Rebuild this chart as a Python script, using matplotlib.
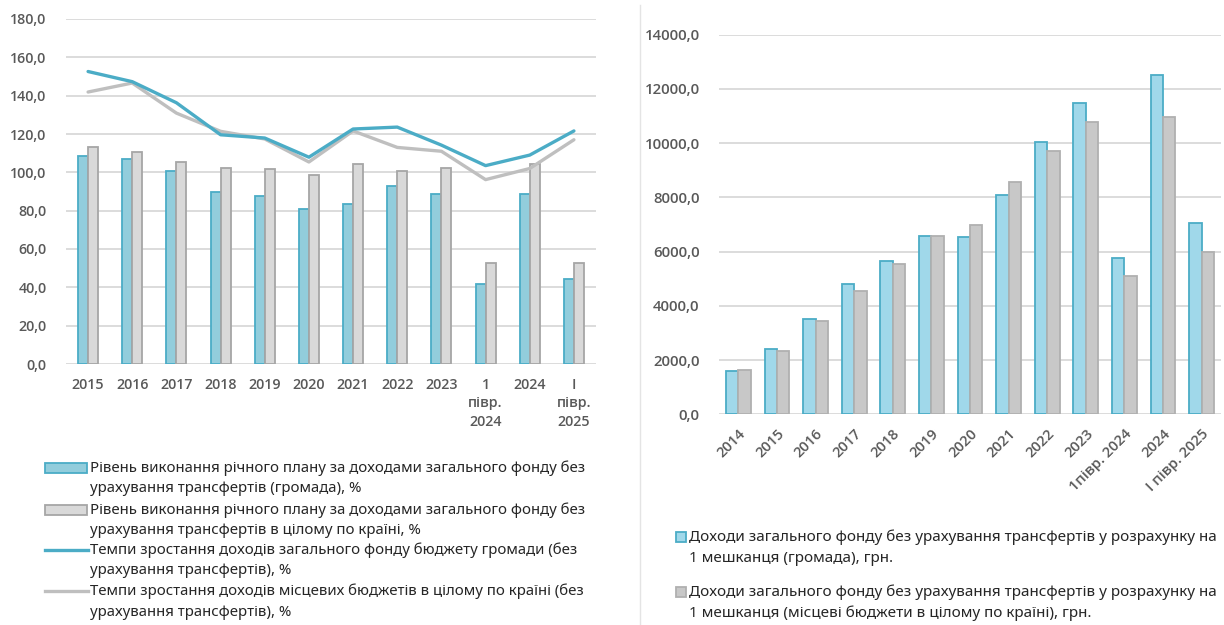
import matplotlib
matplotlib.use("Agg")
import matplotlib.pyplot as plt
import numpy as np
from matplotlib.patches import Rectangle
from matplotlib.lines import Line2D

plt.rcParams['font.family'] = ['Noto Sans', 'DejaVu Sans']
TICK_FONT = ['Open Sans', 'DejaVu Sans']

# ---- left chart data ----
left_cats = ['2015', '2016', '2017', '2018', '2019', '2020', '2021', '2022', '2023',
             '1\nпівр.\n2024', '2024', 'I\nпівр.\n2025']
plan_hromada = [108.3, 107.1, 100.7, 89.7, 87.6, 80.9, 83.3, 92.9, 88.7, 41.6, 88.7, 44.2]
plan_country = [113.4, 110.7, 105.3, 102.5, 102.0, 98.8, 104.3, 100.9, 102.5, 52.6, 104.3, 52.6]
growth_hromada = [152.6, 147.3, 136.3, 119.6, 117.9, 107.9, 122.6, 123.6, 114.2, 103.5, 109.0, 121.6]
growth_country = [141.9, 146.6, 130.9, 121.4, 117.4, 105.4, 121.6, 113.0, 111.0, 96.2, 102.0, 117.0]
left_yticks = list(range(0, 181, 20))
left_labels = [
    'Рівень виконання річного плану за доходами загального фонду без\nурахування трансфертів (громада), %',
    'Рівень виконання річного плану за доходами загального фонду без\nурахування трансфертів в цілому по країні, %',
    'Темпи зростання доходів загального фонду бюджету громади (без\nурахування трансфертів), %',
    'Темпи зростання доходів місцевих бюджетів в цілому по країні (без\nурахування трансфертів), %',
]

# ---- right chart data ----
right_cats = ['2014', '2015', '2016', '2017', '2018', '2019', '2020', '2021', '2022', '2023',
              '1півр. 2024', '2024', 'I півр. 2025']
per_capita_hromada = [1600, 2410, 3530, 4810, 5650, 6590, 6550, 8100, 10040, 11470, 5780, 12510, 7050]
per_capita_country = [1620, 2320, 3450, 4540, 5540, 6590, 6970, 8570, 9710, 10790, 5110, 10970, 5970]
right_yticks = list(range(0, 14001, 2000))
right_labels = [
    'Доходи загального фонду без урахування трансфертів у розрахунку на\n1 мешканця (громада), грн.',
    'Доходи загального фонду без урахування трансфертів у розрахунку на\n1 мешканця (місцеві бюджети в цілому по країні), грн.',
]

BLUE_FILL = '#92cddc'
BLUE_EDGE = '#4bacc6'
GRAY_FILL = '#d9d9d9'
GRAY_EDGE = '#a6a6a6'
BLUE_LINE = '#4bacc6'
GRAY_LINE = '#bfbfbf'
TICK_C = '#595959'
GRID_C = '#d9d9d9'

W, H = 1224, 625
fig = plt.figure(figsize=(W / 100, H / 100), dpi=100)


def fx(px):
    return px / W


def fy(py):
    return 1 - py / H


def comma(v):
    return f'{v:.1f}'.replace('.', ',')


def style_axes(ax):
    for s in ax.spines.values():
        s.set_visible(False)
    ax.tick_params(length=0)
    ax.yaxis.grid(True, color=GRID_C, linewidth=1.3)
    ax.set_axisbelow(True)


# ---- left chart ----
axl = fig.add_axes([fx(66), fy(364), fx(596) - fx(66), fy(19) - fy(364)])
x = np.arange(len(left_cats))
bw = 0.227
axl.bar(x - bw / 2, plan_hromada, bw, color=BLUE_FILL, edgecolor=BLUE_EDGE, linewidth=1.3, zorder=2)
axl.bar(x + bw / 2, plan_country, bw, color=GRAY_FILL, edgecolor=GRAY_EDGE, linewidth=1.3, zorder=2)
axl.plot(x, growth_country, color=GRAY_LINE, linewidth=2.4, zorder=3, solid_capstyle='round')
axl.plot(x, growth_hromada, color=BLUE_LINE, linewidth=2.4, zorder=4, solid_capstyle='round')
axl.set_xlim(-0.5, len(left_cats) - 0.5)
axl.set_ylim(0, 180)
axl.set_yticks(left_yticks, [comma(v) for v in left_yticks],
               family=TICK_FONT, fontweight='semibold', fontsize=10.3, color=TICK_C)
axl.set_xticks(x, left_cats, linespacing=1.4, va='top',
               family=TICK_FONT, fontweight='semibold', fontsize=10.3, color=TICK_C)
style_axes(axl)
axl.tick_params(axis='y', pad=14)
axl.tick_params(axis='x', pad=10)

# ---- right chart ----
axr = fig.add_axes([fx(719), fy(414.3), fx(1221) - fx(719), fy(34.7) - fy(414.3)])
xr = np.arange(len(right_cats))
bw2 = 0.32
axr.bar(xr - bw2 / 2, per_capita_hromada, bw2, color='#a0d8ea', edgecolor=BLUE_EDGE, linewidth=1.3, zorder=2)
axr.bar(xr + bw2 / 2, per_capita_country, bw2, color='#c8c8c8', edgecolor='#b0b0b0', linewidth=1.3, zorder=2)
axr.set_xlim(-0.5, len(right_cats) - 0.5)
axr.set_ylim(0, 14000)
axr.set_yticks(right_yticks, [comma(v) for v in right_yticks],
               family=TICK_FONT, fontweight='semibold', fontsize=10.8, color=TICK_C)
axr.set_xticks(xr, right_cats, rotation=45, ha='right', rotation_mode='anchor',
               family=TICK_FONT, fontweight='semibold', fontsize=10.5, color=TICK_C)
style_axes(axr)
axr.tick_params(axis='y', pad=14)
axr.tick_params(axis='x', pad=9)

# separator / border of right chart
fig.add_artist(Line2D([fx(640), fx(640)], [fy(5), fy(625)], color='#e4e4e4', linewidth=1.0))

# ---- left legend (drawn by hand so the key sits on the first line) ----
first_lines = [468, 510, 550, 591]
line_gap = 21
for i, (lab, yc) in enumerate(zip(left_labels, first_lines)):
    if i == 0:
        fig.add_artist(Rectangle((fx(45), fy(yc + 5)), fx(87) - fx(45), fy(yc - 5) - fy(yc + 5),
                                 facecolor=BLUE_FILL, edgecolor=BLUE_EDGE, linewidth=1.3))
    elif i == 1:
        fig.add_artist(Rectangle((fx(45), fy(yc + 5)), fx(87) - fx(45), fy(yc - 5) - fy(yc + 5),
                                 facecolor=GRAY_FILL, edgecolor=GRAY_EDGE, linewidth=1.3))
    elif i == 2:
        fig.add_artist(Line2D([fx(45), fx(88)], [fy(yc), fy(yc)], color=BLUE_LINE, linewidth=2.4))
    else:
        fig.add_artist(Line2D([fx(45), fx(88)], [fy(yc), fy(yc)], color=GRAY_LINE, linewidth=2.4))
    for k, part in enumerate(lab.split('\n')):
        fig.text(fx(90), fy(yc + k * line_gap), part, fontsize=10.8, color='#262626', va='center', ha='left')

# ---- right legend ----
first_lines_r = [537, 592]
fills = ['#a0d8ea', '#c8c8c8']
edges = [BLUE_EDGE, '#b0b0b0']
for lab, yc, fc, ec in zip(right_labels, first_lines_r, fills, edges):
    fig.add_artist(Rectangle((fx(676), fy(yc + 5)), fx(686) - fx(676), fy(yc - 5) - fy(yc + 5),
                             facecolor=fc, edgecolor=ec, linewidth=1.3))
    for k, part in enumerate(lab.split('\n')):
        fig.text(fx(689), fy(yc + k * line_gap), part, fontsize=11, color='#262626', va='center', ha='left')

fig.savefig('out.png', dpi=100)
